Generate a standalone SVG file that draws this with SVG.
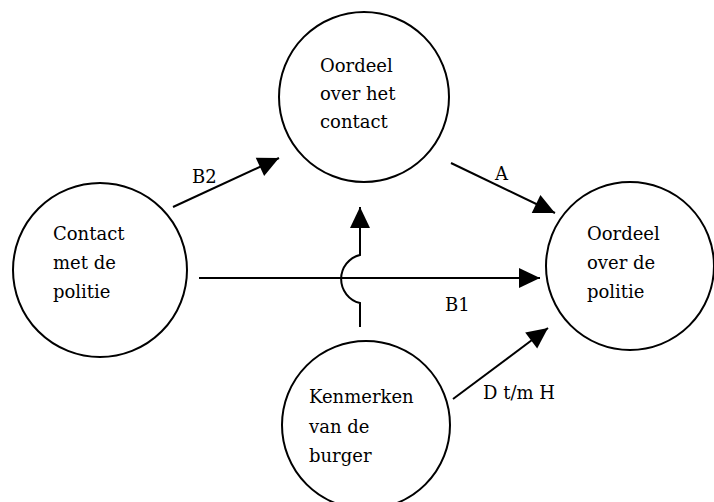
<svg xmlns="http://www.w3.org/2000/svg" width="714" height="502" viewBox="0 0 714 502">
<style>
.node circle{fill:#fff;stroke:#000;stroke-width:2}
.node text,.lbl{font-family:"DejaVu Serif","Liberation Serif",serif;font-size:18px;fill:#000}
.conn{fill:none;stroke:#000;stroke-width:2}
</style>
<defs>
<marker id="ah" markerUnits="userSpaceOnUse" markerWidth="24" markerHeight="22" refX="22" refY="11" orient="auto">
<path d="M1,1 L22,11 L1,21 z" fill="#000"/>
</marker>
</defs>
<rect width="714" height="502" fill="#fff"/>
<g id="connectors">
<path class="conn" d="M173,207 L279,158" marker-end="url(#ah)"/>
<path class="conn" d="M451,163 L555,213" marker-end="url(#ah)"/>
<path class="conn" d="M199,278 L540,278" marker-end="url(#ah)"/>
<path class="conn" d="M453,399 L548,328" marker-end="url(#ah)"/>
<path class="conn" d="M360,327 L360,303 A24.7,24.7 0 0 1 360,255 L360,207" marker-end="url(#ah)"/>
<text class="lbl" x="192" y="183">B2</text>
<text class="lbl" x="495" y="180">A</text>
<text class="lbl" x="445" y="311">B1</text>
<text class="lbl" x="483" y="399">D t/m H</text>
</g>
<g id="oordeel-contact" class="node">
<circle cx="364" cy="97" r="85"/>
<text x="320" y="72">Oordeel</text>
<text x="320" y="100">over het</text>
<text x="320" y="128">contact</text>
</g>
<g id="contact-politie" class="node">
<circle cx="100" cy="270" r="87"/>
<text x="53" y="240">Contact</text>
<text x="53" y="269">met de</text>
<text x="53" y="298">politie</text>
</g>
<g id="oordeel-politie" class="node">
<circle cx="630" cy="266" r="84"/>
<text x="587" y="240">Oordeel</text>
<text x="587" y="269">over de</text>
<text x="587" y="298">politie</text>
</g>
<g id="kenmerken-burger" class="node">
<circle cx="366" cy="425" r="84"/>
<text x="309" y="403">Kenmerken</text>
<text x="309" y="433">van de</text>
<text x="309" y="462">burger</text>
</g>
</svg>
